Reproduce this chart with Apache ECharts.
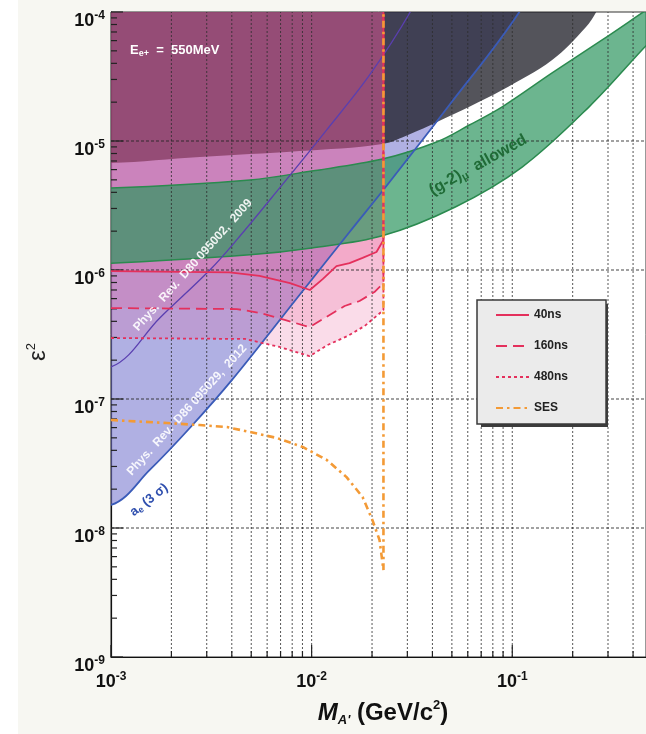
<!DOCTYPE html>
<html>
<head>
<meta charset="utf-8">
<script src="https://cdn.jsdelivr.net/npm/echarts@6/dist/echarts.min.js"></script>
<style>
  html, body { margin: 0; padding: 0; background: #f7f7f2; }
  #chart { width: 646px; height: 734px; }
</style>
</head>
<body>
<div id="chart"></div>
<script>
// Axis ranges: dark photon mass M_A' (GeV/c^2) and coupling epsilon^2
const massMin = 1e-3, massMax = 0.464;
const epsMin = 1e-9, epsMax = 1e-4;

// Decade labels shown on each axis (exponents of ten)
const xTickExponents = [-3, -2, -1];
const yTickExponents = [-9, -8, -7, -6, -5, -4];

// a_e (3 sigma) exclusion boundary, Phys. Rev. D86 095029
const aeMass = [0.001, 0.00156, 0.00247, 0.0040, 0.0087, 0.01545, 0.0236, 0.0486, 0.1084];
const aeEps  = [1.51e-8, 2.82e-8, 5.96e-8, 1.40e-7, 6.40e-7, 1.97e-6, 4.48e-6, 1.90e-5, 1e-4];

// Phys. Rev. D80 095002 bound
const prdMass = [0.001, 0.00175, 0.00311, 0.00423, 0.00693, 0.01189, 0.01946, 0.0310];
const prdEps  = [1.77e-7, 4.25e-7, 1.0e-6, 1.71e-6, 4.33e-6, 1.22e-5, 3.25e-5, 1e-4];

// Region excluded by earlier searches (lower boundary)
const exclMass = [0.001, 0.00277, 0.0087, 0.0225, 0.0308, 0.0419, 0.0611, 0.0891, 0.158, 0.233, 0.262];
const exclEps  = [6.75e-6, 7.52e-6, 8.36e-6, 9.49e-6, 1.13e-5, 1.40e-5, 1.84e-5, 2.48e-5, 4.24e-5, 7.65e-5, 1e-4];

// (g-2)_mu allowed band
const g2UpperMass = [0.001, 0.00492, 0.010, 0.0225, 0.0419, 0.0611, 0.0891, 0.158, 0.2806, 0.414, 0.50];
const g2UpperEps  = [4.33e-6, 4.99e-6, 5.85e-6, 7.24e-6, 9.82e-6, 1.33e-5, 1.84e-5, 3.37e-5, 6.07e-5, 9.15e-5, 1.12e-4];
const g2LowerMass = [0.001, 0.00492, 0.010, 0.0225, 0.052, 0.112, 0.2415, 0.443, 0.50];
const g2LowerEps  = [1.13e-6, 1.31e-6, 1.48e-6, 1.84e-6, 3.08e-6, 6.28e-6, 1.84e-5, 5.07e-5, 6.2e-5];

// Sensitivity for the three time windows
const s40Mass  = [0.001, 0.0039, 0.0055, 0.0078, 0.0098, 0.01135, 0.0133, 0.01545, 0.01795, 0.02105, 0.0228];
const s40Eps   = [9.8e-7, 9.6e-7, 9.0e-7, 7.9e-7, 7.0e-7, 8.5e-7, 1.07e-6, 1.13e-6, 1.24e-6, 1.38e-6, 1.71e-6];
const s160Mass = [0.001, 0.00424, 0.00551, 0.00734, 0.00977, 0.01161, 0.0146, 0.01733, 0.02055, 0.0228];
const s160Eps  = [5.07e-7, 4.98e-7, 4.65e-7, 4.10e-7, 3.61e-7, 4.25e-7, 5.26e-7, 5.75e-7, 6.75e-7, 7.92e-7];
const s480Mass = [0.001, 0.00465, 0.00693, 0.00977, 0.0120, 0.0151, 0.01837, 0.0228];
const s480Eps  = [2.97e-7, 2.92e-7, 2.53e-7, 2.15e-7, 2.62e-7, 3.08e-7, 3.68e-7, 4.89e-7];

// Single event sensitivity
const sesMass = [0.001, 0.0019, 0.00277, 0.00378, 0.00492, 0.0067, 0.00902, 0.01189, 0.01493, 0.01794, 0.0201, 0.0218, 0.0228, 0.0228];
const sesEps  = [6.87e-8, 6.51e-8, 6.28e-8, 6.06e-8, 5.55e-8, 4.99e-8, 4.25e-8, 3.37e-8, 2.48e-8, 1.74e-8, 1.15e-8, 8.07e-9, 4.72e-9, 1e-4];

const FONT = '"Liberation Sans", Arial, Helvetica, sans-serif';
const RED = '#e4305c';
const ORANGE = '#f39a36';
const PINK = 'rgba(230,88,152,0.21)';
const SMOOTH = 0.35;

const toPts = (xs, ys) => xs.map((x, i) => [x, ys[i]]);
const pix = (api, pts) => pts.map(p => api.coord(p));

// Region closed outside the plot frame so that clipping hides the closing corners
function smoothRegion(name, xs, ys, fill, z) {
  return {
    type: 'custom', name, z, silent: true, clip: true,
    data: [[massMin, epsMin]],
    renderItem: (params, api) => {
      const p = pix(api, toPts(xs, ys));
      const first = p[0], last = p[p.length - 1];
      const pts = [[first[0] - 80, first[1]]].concat(p,
        [[last[0] + 30, last[1] - 60], [first[0] - 80, last[1] - 60]]);
      return { type: 'polygon', shape: { points: pts, smooth: SMOOTH }, style: { fill } };
    }
  };
}

function smoothBand(name, upX, upY, loX, loY, fill, z) {
  return {
    type: 'custom', name, z, silent: true, clip: true,
    data: [[massMin, epsMin]],
    renderItem: (params, api) => {
      const up = pix(api, toPts(upX, upY));
      const lo = pix(api, toPts(loX, loY));
      const pts = [[up[0][0] - 80, up[0][1]]].concat(up, lo.slice().reverse(), [[lo[0][0] - 80, lo[0][1]]]);
      return { type: 'polygon', shape: { points: pts, smooth: SMOOTH }, style: { fill } };
    }
  };
}

function smoothCurve(name, xs, ys, stroke, lineWidth, z, extendEnd) {
  return {
    type: 'custom', name, z, silent: true, clip: true,
    data: [[massMin, epsMin]],
    renderItem: (params, api) => {
      const p = pix(api, toPts(xs, ys));
      const first = p[0], last = p[p.length - 1];
      let pts = [[first[0] - 80, first[1]]].concat(p);
      if (extendEnd) pts = pts.concat([[last[0] + 30, last[1] - 60]]);
      return { type: 'polyline', shape: { points: pts, smooth: SMOOTH },
               style: { stroke, lineWidth, fill: null } };
    }
  };
}

function polygonSeries(name, pts, fill, z) {
  return {
    type: 'custom', name, z, silent: true, clip: true,
    data: [[massMin, epsMin]],
    renderItem: (params, api) => ({
      type: 'polygon', shape: { points: pix(api, pts) }, style: { fill }
    })
  };
}

function lineSeries(name, pts, color, width, dash, z) {
  return {
    type: 'line', name, z, data: pts, symbol: 'none', showSymbol: false,
    clip: true, silent: true, animation: false,
    lineStyle: { color, width, type: dash || 'solid', cap: 'butt' },
    itemStyle: { color }
  };
}

// Sensitivity curve closed up to the kinematic edge and the top of the plot
const upTo = (xs, ys) => toPts(xs, ys).concat([[xs[xs.length - 1], epsMax]]);
const regionAbove = (xs, ys) => upTo(xs, ys).concat([[massMin, epsMax]]);

// Grid line and tick positions: every 1..9 x decade
const xGrid = [], yMinor = [], xMinor = [];
for (let e = -3; e <= -1; e++) {
  for (let m = 1; m <= 9; m++) {
    const v = m * Math.pow(10, e);
    if (v > massMin * 1.0001 && v < massMax) xGrid.push(v);
    if (v >= massMin && v < massMax) xMinor.push([v, m === 1]);
  }
}
for (let e = -9; e <= -5; e++) {
  for (let m = 1; m <= 9; m++) yMinor.push([m * Math.pow(10, e), m === 1]);
}
yMinor.push([1e-4, true]);
const yGrid = [1e-8, 1e-7, 1e-6, 1e-5];

const gridLineSeries = {
  type: 'custom', name: 'grid-lines', z: 5, silent: true, clip: true,
  data: xGrid.map(v => [v, epsMin]).concat(yGrid.map(v => [massMin, v])),
  renderItem: (params, api) => {
    const x = api.value(0), y = api.value(1);
    const vertical = y === epsMin;
    const a = vertical ? api.coord([x, epsMin]) : api.coord([massMin, y]);
    const b = vertical ? api.coord([x, epsMax]) : api.coord([massMax, y]);
    return {
      type: 'line',
      shape: { x1: a[0], y1: a[1], x2: b[0], y2: b[1] },
      style: { stroke: vertical ? 'rgba(45,45,45,0.8)' : 'rgba(35,35,35,0.85)',
               lineWidth: vertical ? 1 : 1.2, lineDash: vertical ? [2, 2] : [3, 2] }
    };
  }
};

const tickSeries = {
  type: 'custom', name: 'ticks', z: 6, silent: true, clip: false,
  data: yMinor.map(t => [massMin, t[0], t[1] ? 1 : 0, 0])
        .concat(xMinor.map(t => [t[0], epsMin, t[1] ? 1 : 0, 1])),
  renderItem: (params, api) => {
    const major = api.value(2) === 1, onX = api.value(3) === 1;
    const p = api.coord([api.value(0), api.value(1)]);
    const len = major ? 12 : 6;
    return {
      type: 'line',
      shape: onX ? { x1: p[0], y1: p[1], x2: p[0], y2: p[1] - len }
                 : { x1: p[0], y1: p[1], x2: p[0] + len, y2: p[1] },
      style: { stroke: '#222', lineWidth: 1.2 }
    };
  }
};

const supRich = {
  b: { fontSize: 18, fontWeight: 'bold', fontFamily: FONT, color: '#111', lineHeight: 22 },
  s: { fontSize: 12, fontWeight: 'bold', fontFamily: FONT, color: '#111', verticalAlign: 'top', lineHeight: 12 }
};
const decadeLabel = (exps) => (v) => {
  const e = Math.round(Math.log10(v));
  if (Math.abs(Math.log10(v) - e) > 1e-6 || exps.indexOf(e) < 0) return '';
  return '{b|10}{s|' + e + '}';
};

const option = {
  animation: false,
  backgroundColor: '#f7f7f2',
  grid: { left: 111, top: 12, right: -1, bottom: 77, show: true,
          backgroundColor: '#ffffff', borderColor: '#333', borderWidth: 1 },
  xAxis: {
    type: 'log', logBase: 10, min: massMin, max: massMax,
    axisLine: { show: true, lineStyle: { color: '#111', width: 1.2 } },
    axisTick: { show: false }, splitLine: { show: false },
    axisLabel: { margin: 14, formatter: decadeLabel(xTickExponents), rich: supRich, showMaxLabel: false }
  },
  yAxis: {
    type: 'log', logBase: 10, min: epsMin, max: epsMax,
    axisLine: { show: true, lineStyle: { color: '#111', width: 1.2 } },
    axisTick: { show: false }, splitLine: { show: false },
    axisLabel: { margin: 6, formatter: decadeLabel(yTickExponents), rich: supRich, padding: [18, 0, 0, 0] }
  },
  legend: {
    data: ['40ns', '160ns', '480ns', 'SES'],
    orient: 'vertical', left: 477, top: 300, z: 20,
    itemWidth: 33, itemHeight: 12, itemGap: 19,
    padding: [9, 38, 10, 18],
    backgroundColor: '#ebebeb', borderColor: '#3a3a3a', borderWidth: 1.5, borderRadius: 0,
    itemStyle: { opacity: 0 },
    textStyle: { fontFamily: FONT, fontWeight: 'bold', fontSize: 12, color: '#222' },
    selectedMode: false
  },
  series: [
    smoothRegion('ae-region', aeMass, aeEps, 'rgba(115,115,205,0.56)', 1),
    smoothRegion('excluded-region', exclMass, exclEps, 'rgba(24,24,34,0.74)', 2),
    polygonSeries('reach-480', regionAbove(s480Mass, s480Eps), PINK, 3),
    polygonSeries('reach-160', regionAbove(s160Mass, s160Eps), PINK, 3),
    polygonSeries('reach-40', regionAbove(s40Mass, s40Eps), PINK, 3),
    smoothBand('g2-band', g2UpperMass, g2UpperEps, g2LowerMass, g2LowerEps, 'rgba(45,150,95,0.7)', 4),
    gridLineSeries,
    tickSeries,
    smoothCurve('g2-upper', g2UpperMass, g2UpperEps, '#2b8a4f', 1.5, 7, false),
    smoothCurve('g2-lower', g2LowerMass, g2LowerEps, '#2b8a4f', 1.5, 7, false),
    smoothCurve('prd-line', prdMass, prdEps, '#5a3fb0', 1.3, 7, true),
    smoothCurve('ae-line', aeMass, aeEps, '#3a5bb8', 1.8, 7, true),
    lineSeries('480ns', upTo(s480Mass, s480Eps), RED, 1.8, [3, 3], 8),
    lineSeries('160ns', upTo(s160Mass, s160Eps), RED, 1.8, [11, 6], 8),
    lineSeries('40ns', upTo(s40Mass, s40Eps), RED, 1.8, null, 8),
    lineSeries('SES', toPts(sesMass, sesEps), ORANGE, 2.6, [7, 4, 2.5, 4], 9)
  ],
  graphic: [
    { type: 'rect', left: 0, top: 0, z: -10, silent: true,
      shape: { width: 18, height: 734 }, style: { fill: '#ffffff' } },
    // legend drop shadow
    { type: 'rect', x: 481, y: 304, z: 19, silent: true,
      shape: { width: 127, height: 123 }, style: { fill: '#3c3c3c' } },
    { type: 'text', x: 130, y: 50, z: 100, silent: true,
      style: { text: '{a|E}{b|e+}{a|  =  550MeV}', verticalAlign: 'middle',
               rich: { a: { fontFamily: FONT, fontWeight: 'bold', fontSize: 13, fill: '#fff', lineHeight: 16 },
                       b: { fontFamily: FONT, fontWeight: 'bold', fontSize: 9, fill: '#fff', verticalAlign: 'bottom', lineHeight: 10 } } } },
    { type: 'text', x: 193, y: 265, z: 100, silent: true, rotation: 48.3 * Math.PI / 180,
      style: { text: 'Phys.  Rev.  D80 095002,  2009', align: 'center', verticalAlign: 'middle',
               font: 'bold 12px ' + FONT, fill: 'rgba(255,255,255,0.9)' } },
    { type: 'text', x: 187, y: 410, z: 100, silent: true, rotation: 47.8 * Math.PI / 180,
      style: { text: 'Phys.  Rev.  D86 095029,  2012', align: 'center', verticalAlign: 'middle',
               font: 'bold 12px ' + FONT, fill: 'rgba(255,255,255,0.9)' } },
    { type: 'text', x: 149, y: 500, z: 100, silent: true, rotation: 38 * Math.PI / 180,
      style: { text: '{a|a}{b|e}{a| (3 σ)}', align: 'center', verticalAlign: 'middle',
               rich: { a: { fontFamily: FONT, fontWeight: 'bold', fontSize: 13, fill: '#2f4fae', lineHeight: 15 },
                       b: { fontFamily: FONT, fontWeight: 'bold', fontSize: 9, fill: '#2f4fae', verticalAlign: 'bottom', lineHeight: 10 } } } },
    { type: 'text', x: 478, y: 165, z: 100, silent: true, rotation: 29 * Math.PI / 180,
      style: { text: '{a|(g-2)}{b|μ}{a|  allowed}', align: 'center', verticalAlign: 'middle',
               rich: { a: { fontFamily: FONT, fontWeight: 'bold', fontSize: 16, fill: '#1f6b36', lineHeight: 19 },
                       b: { fontFamily: FONT, fontWeight: 'bold', fontSize: 11, fill: '#1f6b36', verticalAlign: 'bottom', lineHeight: 12 } } } },
    { type: 'text', x: 383, y: 713, z: 100, silent: true,
      style: { text: '{m|M}{s|A\'}{t| (GeV/c}{u|2}{t|)}', align: 'center', verticalAlign: 'middle',
               rich: { m: { fontFamily: FONT, fontWeight: 'bold', fontStyle: 'italic', fontSize: 24, fill: '#111', lineHeight: 28 },
                       s: { fontFamily: FONT, fontWeight: 'bold', fontStyle: 'italic', fontSize: 13, fill: '#111', verticalAlign: 'bottom', lineHeight: 12 },
                       t: { fontFamily: FONT, fontWeight: 'bold', fontSize: 24, fill: '#111', lineHeight: 28 },
                       u: { fontFamily: FONT, fontWeight: 'bold', fontSize: 13, fill: '#111', verticalAlign: 'top', lineHeight: 12 } } } },
    { type: 'text', x: 38, y: 352, z: 100, silent: true, rotation: Math.PI / 2,
      style: { text: '{e|ε}{s|2}', align: 'center', verticalAlign: 'middle',
               rich: { e: { fontFamily: FONT, fontSize: 24, fill: '#222', lineHeight: 26 },
                       s: { fontFamily: FONT, fontSize: 13, fill: '#222', verticalAlign: 'top', lineHeight: 12 } } } }
  ]
};

const chart = echarts.init(document.getElementById('chart'));
chart.setOption(option);
</script>
</body>
</html>
